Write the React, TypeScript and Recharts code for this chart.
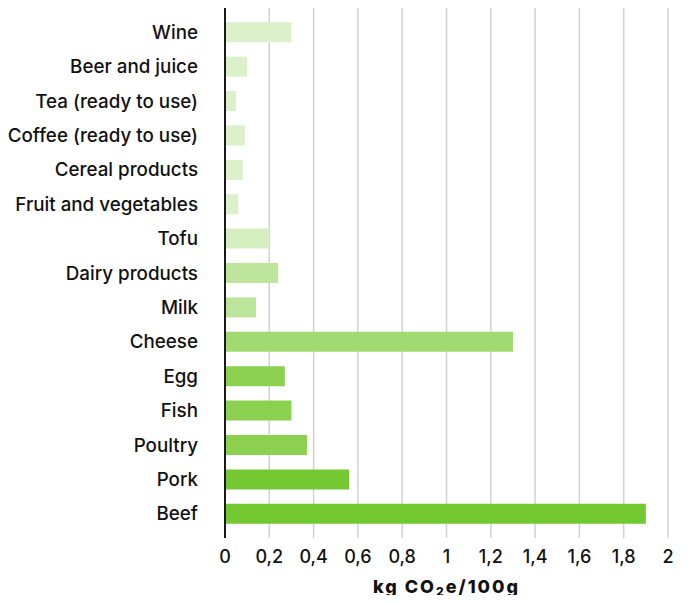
import { Bar, BarChart, CartesianGrid, Cell, XAxis, YAxis } from "recharts"

const categories = [
  "Wine",
  "Beer and juice",
  "Tea (ready to use)",
  "Coffee (ready to use)",
  "Cereal products",
  "Fruit and vegetables",
  "Tofu",
  "Dairy products",
  "Milk",
  "Cheese",
  "Egg",
  "Fish",
  "Poultry",
  "Pork",
  "Beef",
]

const emissions = [0.3, 0.1, 0.05, 0.09, 0.08, 0.06, 0.2, 0.24, 0.14, 1.3, 0.27, 0.3, 0.37, 0.56, 1.9]

const xTicks = [0, 0.2, 0.4, 0.6, 0.8, 1, 1.2, 1.4, 1.6, 1.8, 2]

const barColors = [
  "#dcf0ca",
  "#dcf0ca",
  "#dcf0ca",
  "#dcf0ca",
  "#dcf0ca",
  "#dcf0ca",
  "#d5eec0",
  "#bde49b",
  "#bde49b",
  "#a1da70",
  "#8bd14f",
  "#8bd14f",
  "#8bd14f",
  "#74c932",
  "#74c932",
]

const data = categories.map((name, i) => ({ name, value: emissions[i] }))

const font = "Inter, 'Open Sans', sans-serif"

function AxisLabel({ viewBox }: any) {
  const { x, y, width } = viewBox
  return (
    <text
      x={x + width / 2}
      y={y + 55}
      textAnchor="middle"
      fontFamily={font}
      fontWeight={800}
      fontSize={18}
      letterSpacing={2}
      fill="#111"
    >
      kg CO
      <tspan fontSize={12} dy={3}>2</tspan>
      <tspan dy={-3}>e/100g</tspan>
    </text>
  )
}

export default function App() {
  return (
    <div style={{ width: 672, height: 595, marginBottom: -8 }}>
      <BarChart
        width={672}
        height={595}
        data={data}
        layout="vertical"
        margin={{ top: 0, right: 12, left: 0, bottom: 0 }}
        barCategoryGap="21%"
      >
        <CartesianGrid horizontal={false} stroke="#d2d2d2" strokeWidth={1.5} />
        <XAxis
          type="number"
          domain={[0, 2]}
          ticks={xTicks}
          height={65}
          axisLine={false}
          tickLine={false}
          tickSize={0}
          tickMargin={12}
          tickFormatter={(v: number) => String(v).replace(".", ",")}
          tick={{ fill: "#111", fontSize: 18, fontWeight: 500, fontFamily: font }}
          label={<AxisLabel />}
        />
        <YAxis
          type="category"
          dataKey="name"
          width={217}
          padding={{ top: 7, bottom: 7 }}
          axisLine={{ stroke: "#1a1a1a", strokeWidth: 2 }}
          tickLine={false}
          tickSize={0}
          tickMargin={27}
          interval={0}
          tick={{ fill: "#111", fontSize: 18.8, fontWeight: 500, fontFamily: font }}
        />
        <Bar dataKey="value" isAnimationActive={false}>
          {data.map((d, i) => (
            <Cell key={d.name} fill={barColors[i]} />
          ))}
        </Bar>
      </BarChart>
    </div>
  )
}
